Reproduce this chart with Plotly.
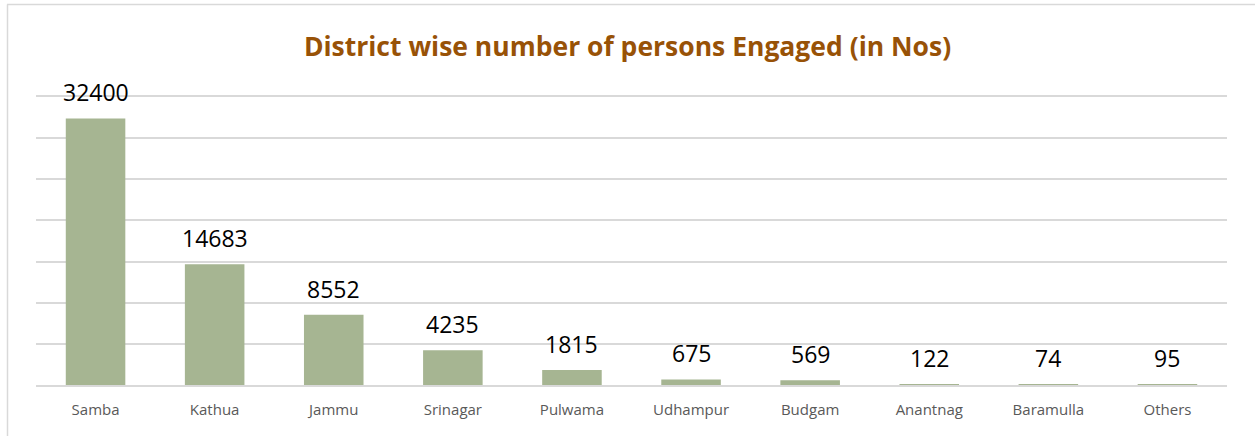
import plotly.graph_objects as go

# Données
districts = ["Samba", "Kathua", "Jammu", "Srinagar", "Pulwama",
             "Udhampur", "Budgam", "Anantnag", "Baramulla", "Others"]
persons = [32400, 14683, 8552, 4235, 1815, 675, 569, 122, 74, 95]

W, H = 1255, 436
L, R, T, B = 36, 28, 97, 51
pw, ph = W - L - R, H - T - B
FONT = "Open Sans, Lato, sans-serif"

fig = go.Figure(go.Bar(
    x=districts, y=persons,
    marker=dict(color="#A6B592", line=dict(width=0)),
    hoverinfo="x+y",
))

# étiquettes de valeurs au-dessus des barres
for d, v in zip(districts, persons):
    fig.add_annotation(x=d, y=v, text=str(v), showarrow=False,
                       yanchor="middle", yshift=26,
                       font=dict(family=FONT, size=23, color="#000000"))

fig.update_layout(
    width=W, height=H,
    margin=dict(l=L, r=R, t=T, b=B),
    paper_bgcolor="white", plot_bgcolor="white",
    bargap=0.5, showlegend=False,
    title=dict(text="<b>District wise number of persons Engaged (in Nos)</b>",
               x=0.5, xanchor="center", y=1 - 47 / H, yanchor="middle",
               font=dict(family=FONT, size=26.5, color="#985207")),
    # mirror=True : la ligne du haut sert de dernière ligne de grille (35000)
    xaxis=dict(tickfont=dict(family=FONT, size=15, color="#595959"),
               showline=True, mirror=True, linecolor="#D9D9D9", linewidth=1.5,
               ticks="", ticklabelstandoff=10),
    yaxis=dict(range=[0, 35000], dtick=5000, showticklabels=False,
               showgrid=True, gridcolor="#D9D9D9", gridwidth=1.5, zeroline=False),
    shapes=[
        dict(type="line", xref="paper", yref="paper",
             x0=(7 - L) / pw, x1=(W + 5 - L) / pw,
             y0=(H - B - 4.5) / ph, y1=(H - B - 4.5) / ph,
             line=dict(color="#D9D9D9", width=1.5)),
        dict(type="line", xref="paper", yref="paper",
             x0=(7.5 - L) / pw, x1=(7.5 - L) / pw,
             y0=(H - B - 4.5) / ph, y1=-(B + 5) / ph,
             line=dict(color="#D9D9D9", width=1.5)),
    ],
)

# la page HTML ajoute une marge de 8px au body : on la supprime
fig.write_html("out.html", config={"displayModeBar": False},
               post_script="document.body.style.margin='0';")
